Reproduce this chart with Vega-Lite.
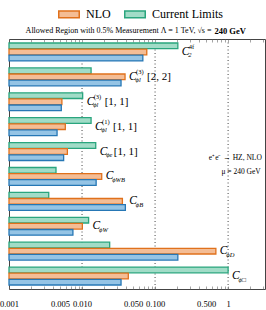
{
  "$schema": "https://vega.github.io/schema/vega-lite/v6.json",
  "width": 256,
  "height": 250,
  "autosize": {"type": "none"},
  "padding": {"left": 9, "top": 39, "right": 1, "bottom": 21},
  "background": "white",
  "config": {"view": {"stroke": "#444", "strokeWidth": 1}},
  "datasets": {
    "bars": [
      {"coef": "c2_4f", "series": "Current Limits", "value": 0.205},
      {"coef": "c2_4f", "series": "NLO", "value": 0.077},
      {"coef": "c2_4f", "series": "LO", "value": 0.068},
      {"coef": "cphil3_22", "series": "Current Limits", "value": 0.0133},
      {"coef": "cphil3_22", "series": "NLO", "value": 0.0388},
      {"coef": "cphil3_22", "series": "LO", "value": 0.0342},
      {"coef": "cphil3_11", "series": "Current Limits", "value": 0.0102},
      {"coef": "cphil3_11", "series": "NLO", "value": 0.0053},
      {"coef": "cphil3_11", "series": "LO", "value": 0.0052},
      {"coef": "cphil1_11", "series": "Current Limits", "value": 0.0133},
      {"coef": "cphil1_11", "series": "NLO", "value": 0.0059},
      {"coef": "cphil1_11", "series": "LO", "value": 0.00455},
      {"coef": "cphie_11", "series": "Current Limits", "value": 0.0154},
      {"coef": "cphie_11", "series": "NLO", "value": 0.0063},
      {"coef": "cphie_11", "series": "LO", "value": 0.0056},
      {"coef": "cphiWB", "series": "Current Limits", "value": 0.0044},
      {"coef": "cphiWB", "series": "NLO", "value": 0.0186},
      {"coef": "cphiWB", "series": "LO", "value": 0.0156},
      {"coef": "cphiB", "series": "Current Limits", "value": 0.0035},
      {"coef": "cphiB", "series": "NLO", "value": 0.0357},
      {"coef": "cphiB", "series": "LO", "value": 0.0392},
      {"coef": "cphiW", "series": "Current Limits", "value": 0.0123},
      {"coef": "cphiW", "series": "NLO", "value": 0.0101},
      {"coef": "cphiW", "series": "LO", "value": 0.0075},
      {"coef": "cphiD", "series": "Current Limits", "value": 0.0239},
      {"coef": "cphiD", "series": "NLO", "value": 0.68},
      {"coef": "cphiD", "series": "LO", "value": 0.205},
      {"coef": "cphiBox", "series": "Current Limits", "value": 1.0},
      {"coef": "cphiBox", "series": "NLO", "value": 0.043},
      {"coef": "cphiBox", "series": "LO", "value": 0.0342}
    ],
    "labels": [
      {"coef": "c2_4f", "sub": "2", "sup": "4f", "suffix": ""},
      {"coef": "cphil3_22", "sub": "ϕl", "sup": "(3)", "suffix": "[2, 2]"},
      {"coef": "cphil3_11", "sub": "ϕl", "sup": "(3)", "suffix": "[1, 1]"},
      {"coef": "cphil1_11", "sub": "ϕl", "sup": "(1)", "suffix": "[1, 1]"},
      {"coef": "cphie_11", "sub": "ϕe", "sup": "", "suffix": "[1, 1]"},
      {"coef": "cphiWB", "sub": "ϕWB", "sup": "", "suffix": ""},
      {"coef": "cphiB", "sub": "ϕB", "sup": "", "suffix": ""},
      {"coef": "cphiW", "sub": "ϕW", "sup": "", "suffix": ""},
      {"coef": "cphiD", "sub": "ϕD", "sup": "", "suffix": ""},
      {"coef": "cphiBox", "sub": "ϕ□", "sup": "", "suffix": ""}
    ],
    "grid": [{"v": 0.01}, {"v": 0.1}, {"v": 1}]
  },
  "resolve": {"axis": {"x": "independent"}},
  "layer": [
    {
      "data": {"name": "grid"},
      "mark": {"type": "rule", "strokeDash": [1, 2.5], "color": "#444", "strokeWidth": 1},
      "encoding": {
        "x": {"field": "v", "type": "quantitative", "scale": {"type": "log", "domain": [0.001, 3.2], "nice": false},
          "axis": {"orient": "top", "title": null, "labels": false, "domain": false, "grid": false, "tickSize": -3, "tickColor": "#666", "tickWidth": 0.6,
            "values": [0.001,0.002,0.003,0.004,0.005,0.006,0.007,0.008,0.009,0.01,0.02,0.03,0.04,0.05,0.06,0.07,0.08,0.09,0.1,0.2,0.3,0.4,0.5,0.6,0.7,0.8,0.9,1,2,3]}}
      }
    },
    {
      "data": {"name": "bars"},
      "mark": {"type": "bar", "strokeWidth": 1.3},
      "encoding": {
        "y": {"field": "coef", "type": "nominal", "axis": null, "sort": null,
          "scale": {"domain": ["c2_4f","cphil3_22","cphil3_11","cphil1_11","cphie_11","cphiWB","cphiB","cphiW","cphiD","cphiBox"], "paddingInner": 0.28, "paddingOuter": 0.16}},
        "yOffset": {"field": "series", "type": "nominal", "sort": null, "scale": {"domain": ["Current Limits", "NLO", "LO"], "paddingInner": 0.06}},
        "x": {"field": "value", "type": "quantitative", "scale": {"type": "log", "domain": [0.001, 3.2], "nice": false},
          "axis": {"orient": "bottom", "title": null, "domain": false, "grid": false, "tickSize": -3, "tickColor": "#666", "tickWidth": 0.6,
            "labelFont": "Liberation Serif", "labelFontSize": 8.5, "labelColor": "#000", "labelPadding": 13, "labelOverlap": false, "labelFlush": false, "labelBound": false,
            "values": [0.001,0.002,0.003,0.004,0.005,0.006,0.007,0.008,0.009,0.01,0.02,0.03,0.04,0.05,0.06,0.07,0.08,0.09,0.1,0.2,0.3,0.4,0.5,0.6,0.7,0.8,0.9,1,2,3],
            "labelExpr": "indexof([0.001,0.005,0.01,0.05,0.1,0.5,1], datum.value) >= 0 ? (datum.value == 1 ? '1' : format(datum.value, '.3f')) : ''"}},
        "x2": {"datum": 0.001},
        "fill": {"field": "series", "type": "nominal",
          "scale": {"domain": ["NLO", "Current Limits", "LO"], "range": ["#f4bd95", "#a1dcc7", "#95c4e5"]},
          "legend": {"orient": "none", "legendX": 49, "legendY": -36, "direction": "horizontal", "values": ["NLO", "Current Limits"], "title": null,
            "symbolType": "M-1,-0.32H1V0.32H-1Z", "symbolSize": 420, "symbolStrokeWidth": 1.5, "labelFont": "Liberation Serif", "labelFontSize": 12, "labelColor": "#000", "columnPadding": 10, "labelOffset": 6}},
        "stroke": {"field": "series", "type": "nominal",
          "scale": {"domain": ["NLO", "Current Limits", "LO"], "range": ["#e0711c", "#2aa57e", "#2677b5"]},
          "legend": {"orient": "none", "legendX": 49, "legendY": -36, "direction": "horizontal", "values": ["NLO", "Current Limits"], "title": null,
            "symbolType": "M-1,-0.32H1V0.32H-1Z", "symbolSize": 420, "symbolStrokeWidth": 1.5, "labelFont": "Liberation Serif", "labelFontSize": 12, "labelColor": "#000", "columnPadding": 10, "labelOffset": 6}}
      }
    },
    {
      "data": {"name": "bars"},
      "transform": [
        {"aggregate": [{"op": "max", "field": "value", "as": "maxv"}], "groupby": ["coef"]},
        {"lookup": "coef", "from": {"data": {"name": "labels"}, "key": "coef", "fields": ["sub", "sup", "suffix"]}}
      ],
      "encoding": {
        "x": {"field": "maxv", "type": "quantitative", "axis": null, "scale": {"type": "log", "domain": [0.001, 3.2], "nice": false}},
        "y": {"field": "coef", "type": "nominal", "axis": null, "sort": null}
      },
      "layer": [
        {"mark": {"type": "text", "align": "left", "baseline": "middle", "dx": 4, "font": "Liberation Serif", "fontStyle": "italic", "fontSize": 11.5, "color": "#000"},
          "encoding": {"text": {"value": "C"}}},
        {"mark": {"type": "text", "align": "left", "baseline": "middle", "dx": 10.5, "dy": 3.5, "font": "Liberation Serif", "fontStyle": "italic", "fontSize": 6.5, "color": "#000"},
          "encoding": {"text": {"field": "sub"}}},
        {"mark": {"type": "text", "align": "left", "baseline": "middle", "dx": 11, "dy": -5, "font": "Liberation Serif", "fontSize": 6.5, "color": "#000"},
          "encoding": {"text": {"field": "sup"}}},
        {"transform": [{"filter": "datum.suffix != '' && datum.sup != ''"}],
          "mark": {"type": "text", "align": "left", "baseline": "middle", "dx": 22, "font": "Liberation Serif", "fontSize": 11, "color": "#000"},
          "encoding": {"text": {"field": "suffix"}}},
        {"transform": [{"filter": "datum.suffix != '' && datum.sup == ''"}],
          "mark": {"type": "text", "align": "left", "baseline": "middle", "dx": 18, "font": "Liberation Serif", "fontSize": 11, "color": "#000"},
          "encoding": {"text": {"field": "suffix"}}}
      ]
    },
    {
      "data": {"values": [{"t": "Allowed Region with 0.5% Measurement Λ = 1 TeV, √s ="}]},
      "mark": {"type": "text", "align": "right", "baseline": "middle", "dx": -1.5, "dy": -21, "font": "Liberation Serif", "fontSize": 8, "color": "#000"},
      "encoding": {
        "x": {"datum": 0.62, "type": "quantitative", "axis": null, "scale": {"type": "log", "domain": [0.001, 3.2], "nice": false}},
        "y": {"datum": "c2_4f", "type": "nominal", "axis": null},
        "text": {"field": "t"}
      }
    },
    {
      "data": {"values": [{"t": "240 GeV"}]},
      "mark": {"type": "text", "align": "left", "baseline": "middle", "dx": 1.5, "dy": -21, "font": "Liberation Serif", "fontSize": 8.5, "fontWeight": "bold", "color": "#000"},
      "encoding": {
        "x": {"datum": 0.62, "type": "quantitative", "axis": null, "scale": {"type": "log", "domain": [0.001, 3.2], "nice": false}},
        "y": {"datum": "c2_4f", "type": "nominal", "axis": null},
        "text": {"field": "t"}
      }
    },
    {
      "data": {"values": [{"t": "e⁺e⁻ → HZ, NLO"}]},
      "mark": {"type": "text", "align": "right", "baseline": "middle", "dy": 6, "font": "Liberation Serif", "fontSize": 7.5, "color": "#000"},
      "encoding": {
        "x": {"datum": 2.9, "type": "quantitative", "axis": null, "scale": {"type": "log", "domain": [0.001, 3.2], "nice": false}},
        "y": {"datum": "cphie_11", "type": "nominal", "axis": null},
        "text": {"field": "t"}
      }
    },
    {
      "data": {"values": [{"t": "μ = 240 GeV"}]},
      "mark": {"type": "text", "align": "right", "baseline": "middle", "dy": -4.5, "font": "Liberation Serif", "fontSize": 7.5, "color": "#000"},
      "encoding": {
        "x": {"datum": 2.8, "type": "quantitative", "axis": null, "scale": {"type": "log", "domain": [0.001, 3.2], "nice": false}},
        "y": {"datum": "cphiWB", "type": "nominal", "axis": null},
        "text": {"field": "t"}
      }
    }
  ]
}
